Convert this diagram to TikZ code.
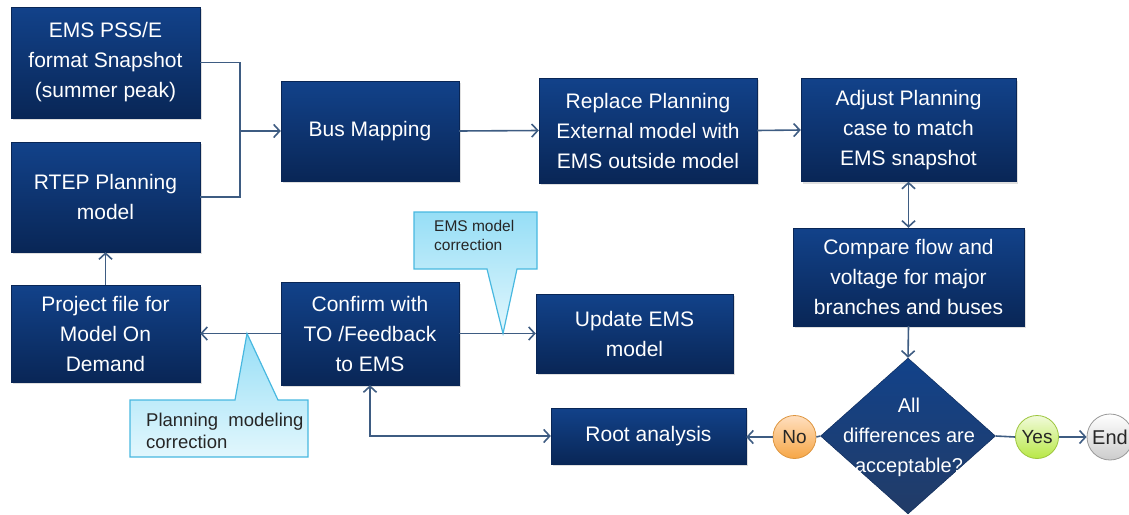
\documentclass[tikz,border=0pt]{standalone}
\usepackage{fontspec}
\setmainfont{Liberation Sans}
\usetikzlibrary{positioning,shapes.geometric,shadows,arrows.meta}
\definecolor{darknavy}{RGB}{9,38,86}
\definecolor{midnavy}{RGB}{18,66,138}
\definecolor{linkblue}{RGB}{62,92,130}
\definecolor{palecyan}{RGB}{226,247,253}
\definecolor{skycyan}{RGB}{150,222,246}
\definecolor{cyanborder}{RGB}{72,184,224}
\definecolor{noorange}{RGB}{246,166,70}
\definecolor{yesgreen}{RGB}{184,232,70}

\begin{document}
\begin{tikzpicture}[x=1pt,y=-1pt]
    % Stili del diagramma
    \tikzset{
        step_box/.style={
            rectangle,
            top color=midnavy, % Sfumatura in alto
            bottom color=darknavy, % Sfumatura in basso
            draw=darknavy,
            text=white,
            align=center, % Testo centrato
            font=\fontsize{21}{30}\selectfont,
            inner sep=2pt,
            drop shadow={opacity=0.25,shadow xshift=2pt,shadow yshift=-2pt}
        },
        decision_box/.style={
            diamond,
            top color=midnavy,
            bottom color=darknavy!90,
            draw=darknavy,
            inner sep=0pt,
            minimum width=175pt, % Larghezza del rombo
            minimum height=156pt % Altezza del rombo
        },
        box_text/.style={
            text=white,
            align=center,
            font=\fontsize{20}{30}\selectfont,
            inner sep=0pt
        },
        answer_dot/.style={
            circle,
            minimum size=43pt,
            inner sep=0pt,
            thick,
            text=black!85,
            font=\fontsize{19}{22}\selectfont
        },
        note_box/.style={
            draw=cyanborder,
            line width=1.2pt,
            top color=skycyan,
            bottom color=palecyan
        },
        note_text/.style={
            text=black!85,
            align=left,
            inner sep=0pt
        },
        plain_link/.style={draw=linkblue, line width=1.6pt},
        flow_arrow/.style={plain_link, -{Straight Barb[length=6pt,width=13pt]}},
        both_arrow/.style={plain_link, {Straight Barb[length=6pt,width=13pt]}-{Straight Barb[length=6pt,width=13pt]}}
    }

    % Margini dell'immagine
    \useasboundingbox (0,0) rectangle (1129,514);

    % Colonna di sinistra
    \node[step_box, minimum width=189pt, minimum height=111pt] (ems_snapshot) at (105.5,62.5) {EMS PSS/E\\format Snapshot\\(summer peak)};
    \node[step_box, minimum width=189pt, minimum height=110pt] (rtep_model) at (105.5,197) {RTEP Planning\\model};
    \node[step_box, minimum width=189pt, minimum height=97pt] (project_file) at (105.5,333.5) {Project file for\\Model On\\Demand};

    % Riga superiore
    \node[step_box, minimum width=178pt, minimum height=100pt] (bus_mapping) at (370,131) {Bus Mapping};
    \node[step_box, minimum width=218pt, minimum height=105pt] (replace_model) at (648,130.5) {Replace Planning\\External model with\\EMS outside model};
    \node[step_box, minimum width=215pt, minimum height=103pt] (adjust_case) at (908.5,130) {Adjust Planning\\case to match\\EMS snapshot};
    \node[step_box, minimum width=231pt, minimum height=98pt] (compare_flow) at (908.5,277) {Compare flow and\\voltage for major\\branches and buses};

    % Riga centrale e inferiore
    \node[step_box, minimum width=178pt, minimum height=103pt] (confirm_to) at (370,333.5) {Confirm with\\TO /Feedback\\to EMS};
    \node[step_box, minimum width=197pt, minimum height=79pt] (update_ems) at (634.5,333.5) {Update EMS\\model};
    \node[step_box, minimum width=195pt, minimum height=56pt] (root_analysis) at (648.5,436) {Root analysis};

    % Decisione e risposte
    \node[decision_box] (check) at (908,436) {};
    \node[box_text] (check_text) at (909,437) {All\\differences are\\acceptable?};
    \node[answer_dot, draw=noorange!90!black, top color=orange!25, bottom color=noorange] (answer_no) at (794.5,437) {No};
    \node[answer_dot, draw=yesgreen!85!black, top color=yesgreen!20, bottom color=yesgreen] (answer_yes) at (1037,437) {Yes};
    \node[answer_dot, minimum size=46pt, draw=black!40, top color=white, bottom color=black!20, font=\fontsize{20}{22}\selectfont] (the_end) at (1110,437) {End};

    % Collegamenti
    \coordinate (merge) at (240,131);
    \draw[plain_link] (ems_snapshot.east) -| (merge);
    \draw[plain_link] (rtep_model.east) -| (merge);
    \draw[flow_arrow] (merge) -- (bus_mapping.west);
    \draw[flow_arrow] (bus_mapping.east) -- (replace_model.west);
    \draw[flow_arrow] (replace_model.east) -- (adjust_case.west);
    \draw[both_arrow] (adjust_case.south) -- (compare_flow.north);
    \draw[flow_arrow] (compare_flow.south) -- (check.north);
    \draw[plain_link] (check.west) -- (answer_no.east);
    \draw[flow_arrow] (answer_no.west) -- (root_analysis.east |- answer_no.west);
    \draw[plain_link] (check.east) -- (answer_yes.west);
    \draw[flow_arrow] (answer_yes.east) -- (the_end.west);
    \draw[both_arrow] (confirm_to.south) |- (root_analysis.west);
    \draw[flow_arrow] (confirm_to.west) -- (project_file.east);
    \draw[flow_arrow] (confirm_to.east) -- (update_ems.west);
    \draw[flow_arrow] (project_file.north) -- (rtep_model.south);

    % Fumetti di correzione
    \coordinate (ems_tip) at (503,333.5);
    \coordinate (plan_tip) at (247,333.5);
    \path[note_box] (414,212) -- (537,212) -- (537,269) -- (517,269) -- (ems_tip) -- (487,269) -- (414,269) -- cycle;
    \node[note_text, anchor=west, font=\fontsize{15.5}{19}\selectfont] (ems_note) at (434,235) {EMS model\\correction};
    \path[note_box] (130,400) -- (235,400) -- (plan_tip) -- (278,400) -- (308,400) -- (308,457) -- (130,457) -- cycle;
    \node[note_text, anchor=west, font=\fontsize{18.5}{22}\selectfont] (plan_note) at (146,431) {Planning\ \ modeling\\correction};
\end{tikzpicture}
\end{document}
